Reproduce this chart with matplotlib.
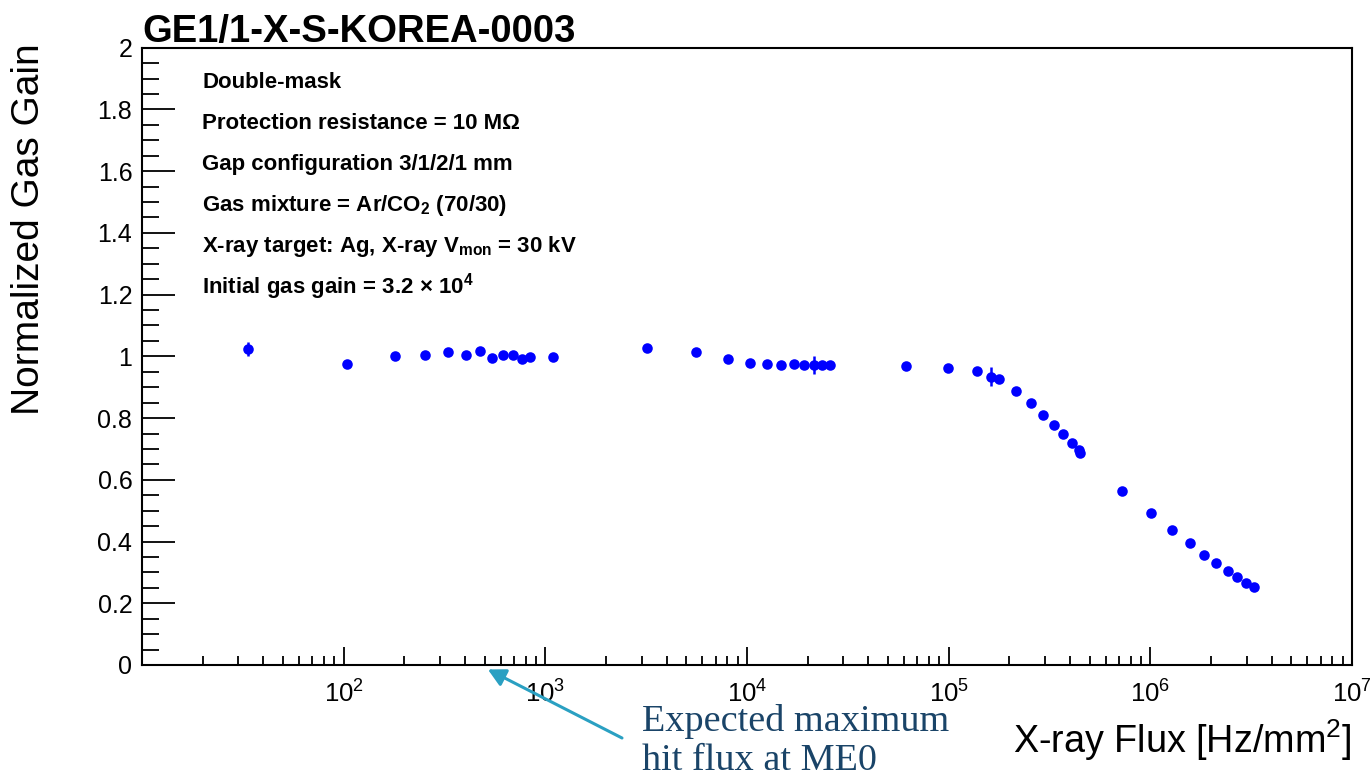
import numpy as np
import matplotlib
matplotlib.use('Agg')
import matplotlib.pyplot as plt
from matplotlib.ticker import LogLocator, FixedLocator, LogFormatterMathtext, MultipleLocator, NullFormatter

plt.rcParams['font.family'] = ['Liberation Sans', 'DejaVu Sans']
plt.rcParams['mathtext.default'] = 'regular'

# ---- data ----
flux = [33.6, 104, 180, 254, 328, 403, 472, 547, 620, 695, 765, 838, 1089,
        3190, 5560, 8040, 10370, 12590, 14760, 17010, 19200, 21510, 23660, 25810,
        61100, 99700, 138800, 162100, 178300, 215500, 254600, 293100, 331200,
        369800, 409800, 443000, 448000, 724700, 1004000, 1286000, 1566000,
        1848000, 2125000, 2416000, 2690000, 2981000, 3250000]
gain = [1.023, 0.975, 1.002, 1.004, 1.013, 1.003, 1.017, 0.996, 1.005, 1.005, 0.991, 0.997, 0.998,
        1.026, 1.013, 0.990, 0.977, 0.976, 0.972, 0.974, 0.973, 0.972, 0.972, 0.973,
        0.968, 0.963, 0.953, 0.934, 0.928, 0.887, 0.849, 0.810, 0.778,
        0.747, 0.719, 0.697, 0.687, 0.565, 0.491, 0.437, 0.394,
        0.357, 0.330, 0.306, 0.285, 0.267, 0.253]
gain_err = [0.022, 0.005, 0.005, 0.005, 0.005, 0.005, 0.005, 0.005, 0.005, 0.005, 0.005, 0.005, 0.005,
            0.005, 0.005, 0.005, 0.005, 0.005, 0.005, 0.005, 0.005, 0.03, 0.005, 0.005,
            0.005, 0.005, 0.005, 0.03, 0.005, 0.005, 0.005, 0.005, 0.005,
            0.005, 0.005, 0.005, 0.005, 0.005, 0.005, 0.005, 0.005,
            0.005, 0.005, 0.005, 0.005, 0.005, 0.005]

x_major = [1e2, 1e3, 1e4, 1e5, 1e6, 1e7]   # labelled decades

title = "GE1/1-X-S-KOREA-0003"
info_lines = ["Double-mask",
              "Protection resistance = 10 M\u03a9",
              "Gap configuration 3/1/2/1 mm",
              "Gas mixture = Ar/CO$_{2}$ (70/30)",
              "X-ray target: Ag, X-ray V$_{mon}$ = 30 kV",
              "Initial gas gain = 3.2 \u00d7 10$^{4}$"]
arrow_flux = 470          # where the arrow points on the flux axis
note_lines = ["Expected maximum", "hit flux at ME0"]

W, H = 1372, 777
fig = plt.figure(figsize=(W / 100, H / 100), dpi=100)
ax = fig.add_axes([142 / W, 1 - 665 / H, (1352 - 142) / W, (665 - 47.7) / H])

ax.errorbar(flux, gain, yerr=gain_err, fmt='o', color='#0000ff', ms=7.6,
            elinewidth=1.8, capsize=2, capthick=1.8, mew=0)

ax.set_xscale('log')
ax.set_xlim(10, 1e7)
ax.set_ylim(0, 2)

ax.xaxis.set_major_locator(FixedLocator(x_major))
ax.xaxis.set_minor_locator(LogLocator(base=10, subs=np.arange(2, 10), numticks=20))
ax.xaxis.set_major_formatter(LogFormatterMathtext())
ax.xaxis.set_minor_formatter(NullFormatter())
ax.yaxis.set_major_locator(MultipleLocator(0.2))
ax.yaxis.set_minor_locator(MultipleLocator(0.05))
ax.yaxis.set_major_formatter(plt.FuncFormatter(lambda v, p: ('%g' % round(v, 2))))

for s in ax.spines.values():
    s.set_linewidth(1.5)
ax.tick_params(axis='both', which='both', direction='in', width=1.3, top=False, right=False)
ax.tick_params(axis='y', which='major', length=24, labelsize=18, pad=7)
ax.tick_params(axis='y', which='minor', length=12)
ax.tick_params(axis='x', which='major', length=13, labelsize=18.5, pad=11)
ax.tick_params(axis='x', which='minor', length=6.5)

# title and axis labels placed like the ROOT canvas
fig.text(142 / W, 1 - 42 / H, title, fontsize=27.5, fontweight='bold', ha='left', va='baseline')
fig.text(29 / W, 1 - 43 / H, "Normalized Gas Gain", fontsize=28, rotation=90, ha='center', va='top')
fig.text(1351 / W, 1 - 753 / H, "X-ray Flux [Hz/mm$^{2}$]", fontsize=27.2, ha='right', va='baseline')

for i, line in enumerate(info_lines):
    fig.text(202 / W, 1 - (87.5 + 41.2 * i) / H, line, fontsize=16, fontweight='bold',
             ha='left', va='baseline')

# annotation arrow pointing at the axis
ax.annotate('', xy=(arrow_flux, 0), xycoords='data',
            xytext=(622 / W, 1 - 738 / H), textcoords='figure fraction',
            arrowprops=dict(arrowstyle='-|>,head_length=1.05,head_width=0.55', color='#2aa0c2',
                            lw=2.2, shrinkA=0, shrinkB=7),
            annotation_clip=False)
for i, line in enumerate(note_lines):
    fig.text(642 / W, 1 - (731 + 38.5 * i) / H, line, fontsize=27.5, family='Liberation Serif',
             color='#1a4468', ha='left', va='baseline')

fig.savefig('out.png', dpi=100)
